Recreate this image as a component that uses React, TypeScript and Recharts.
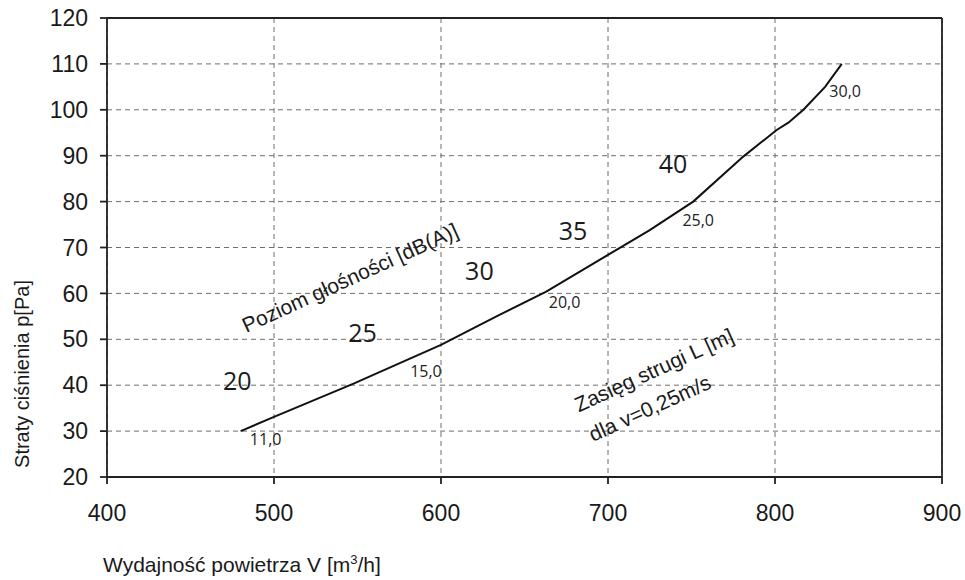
import React from 'react';
import {
  LineChart,
  Line,
  XAxis,
  YAxis,
  CartesianGrid,
  ReferenceLine,
  ReferenceDot,
} from 'recharts';

// Curve: air flow V [m3/h] vs pressure loss p [Pa]
const flowV = [480, 500, 548, 577, 600, 623, 635, 663, 700, 725, 751, 781, 801, 808, 817, 830, 840];
const pressureP = [30, 33.1, 40.4, 45.1, 48.8, 53.1, 55.3, 60.4, 68.4, 73.8, 80, 89.8, 95.6, 97.2, 100, 105, 110];

const xTicks = [400, 500, 600, 700, 800, 900];
const yTicks = [20, 30, 40, 50, 60, 70, 80, 90, 100, 110, 120];

// Throw range labels L [m] along the curve (data coordinates of the label)
const rangeText = ['11,0', '15,0', '20,0', '25,0', '30,0'];
const rangeX = [495, 591, 674, 754, 842];
const rangeY = [28.3, 43.1, 58.1, 75.8, 104.1];

// Noise level labels dB(A) (data coordinates of the label)
const noiseText = ['20', '25', '30', '35', '40'];
const noiseX = [478, 553, 623, 679, 739];
const noiseY = [40.9, 51.4, 64.9, 73.6, 88.2];

// Rotated captions
const captionText = ['Poziom głośności [dB(A)]', 'Zasięg strugi L [m]', 'dla v=0,25m/s'];
const captionX = [545.5, 727.5, 725];
const captionY = [63.4, 43.3, 35.0];

const data = flowV.map((v, i) => ({ v, p: pressureP[i] }));

const SANS = '"Liberation Sans", Arial, sans-serif';
const HUMAN = '"Open Sans", "Noto Sans", sans-serif';

const makeLabel = (text: string, style: any, angle = 0) => (props: any) => {
  const vb = props.viewBox || {};
  const cx = (vb.x || 0) + (vb.width || 0) / 2;
  const cy = (vb.y || 0) + (vb.height || 0) / 2;
  return (
    <text
      x={cx}
      y={cy}
      dy="0.35em"
      textAnchor="middle"
      transform={angle ? `rotate(${angle}, ${cx}, ${cy})` : undefined}
      {...style}
    >
      {text}
    </text>
  );
};

const YTitle = (props: any) => {
  const vb = props.viewBox || { x: 0, y: 18, width: 107, height: 459 };
  const x = vb.x + 22;
  const y = vb.y + 356;
  return (
    <text
      x={x}
      y={y}
      dy="0.35em"
      textAnchor="middle"
      transform={`rotate(-90, ${x}, ${y})`}
      fontFamily={SANS}
      fontSize={20}
      fill="#1a1a1a"
    >
      Straty ciśnienia p[Pa]
    </text>
  );
};

const XTitle = (props: any) => {
  const vb = props.viewBox || { x: 107, y: 477, width: 835, height: 103 };
  return (
    <text x={vb.x - 4} y={vb.y + 95} textAnchor="start" fontFamily={SANS} fontSize={21} fill="#1a1a1a">
      Wydajność powietrza V [m
      <tspan fontSize={13} dy={-8}>3</tspan>
      <tspan dy={8}>/h]</tspan>
    </text>
  );
};

export default function App() {
  return (
    <div style={{ position: 'absolute', left: 0, top: 0, width: 965, height: 580, background: '#fff' }}>
      <LineChart width={965} height={580} data={data} margin={{ top: 18, right: 23, bottom: 0, left: 0 }}>
        <CartesianGrid stroke="#6e6e6e" strokeDasharray="5 4" strokeWidth={1} />
        <XAxis
          dataKey="v"
          type="number"
          domain={[400, 900]}
          ticks={xTicks}
          height={103}
          stroke="#222"
          strokeWidth={1.8}
          tickSize={7}
          tickMargin={21}
          tick={{ fontSize: 23, fill: '#1a1a1a', fontFamily: SANS }}
          label={XTitle}
        />
        <YAxis
          type="number"
          domain={[20, 120]}
          ticks={yTicks}
          width={107}
          stroke="#222"
          strokeWidth={1.8}
          tickSize={7}
          tickMargin={12}
          tick={{ fontSize: 23, fill: '#1a1a1a', fontFamily: SANS }}
          label={YTitle}
        />
        <ReferenceLine y={120} stroke="#222" strokeWidth={1.8} />
        <ReferenceLine x={900} stroke="#222" strokeWidth={1.8} />
        <Line
          dataKey="p"
          type="linear"
          stroke="#111"
          strokeWidth={2}
          dot={false}
          isAnimationActive={false}
        />
        {rangeText.map((t, i) => (
          <ReferenceDot
            key={'r' + i}
            x={rangeX[i]}
            y={rangeY[i]}
            r={1}
            fill="none"
            stroke="none"
            label={makeLabel(t, { fontFamily: HUMAN, fontSize: 16, fill: '#222' })}
          />
        ))}
        {noiseText.map((t, i) => (
          <ReferenceDot
            key={'n' + i}
            x={noiseX[i]}
            y={noiseY[i]}
            r={1}
            fill="none"
            stroke="none"
            label={makeLabel(t, { fontFamily: HUMAN, fontSize: 25, fill: '#1a1a1a' })}
          />
        ))}
        {captionText.map((t, i) => (
          <ReferenceDot
            key={'c' + i}
            x={captionX[i]}
            y={captionY[i]}
            r={1}
            fill="none"
            stroke="none"
            label={makeLabel(t, { fontFamily: SANS, fontSize: 21, fill: '#1a1a1a' }, -24.5)}
          />
        ))}
      </LineChart>
    </div>
  );
}
